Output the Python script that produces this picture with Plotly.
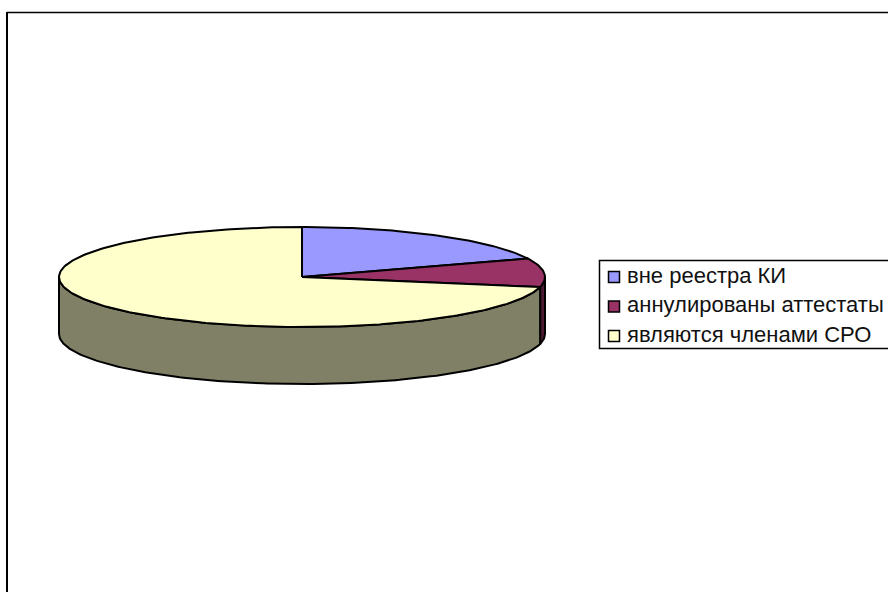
import numpy as np
import plotly.graph_objects as go

categories = ["вне реестра КИ", "аннулированы аттестаты", "являются членами СРО"]
shares = [19.0, 9.2, 71.8]
top_colors = ["#9999FF", "#993366", "#FFFFCC"]
side_colors = ["#4D4D80", "#4D1933", "#808066"]

W, H = 888, 592
CX, CY, RX, RY, DEPTH = 302, 277, 243, 50, 57
INK = "#000000"
TEXT_INK = "#111111"

fig = go.Figure()


def rim(a, b, dy=0.0):
    t = np.radians(np.linspace(a, b, max(2, int(abs(b - a)) + 2)))
    return CX + RX * np.sin(t), CY - RY * np.cos(t) + dy


edges = np.concatenate([[0], np.cumsum(shares)]) / np.sum(shares) * 360

# frame
fig.add_shape(type="line", x0=7, x1=W + 5, y0=12.5, y1=12.5, line=dict(color=INK, width=1.5))
fig.add_shape(type="line", x0=7, x1=7, y0=12, y1=H + 5, line=dict(color=INK, width=2))

# visible wall (front half of the drum)
for i in range(len(shares)):
    a, b = max(edges[i], 90), min(edges[i + 1], 270)
    if b <= a:
        continue
    xt, yt = rim(a, b)
    xb, yb = rim(a, b, DEPTH)
    fig.add_trace(go.Scatter(
        x=np.concatenate([xt, xb[::-1], xt[:1]]),
        y=np.concatenate([yt, yb[::-1], yt[:1]]),
        mode="lines", fill="toself", fillcolor=side_colors[i],
        line=dict(color=INK, width=2), hoverinfo="skip", showlegend=False))

# top faces
for i in range(len(shares)):
    xt, yt = rim(edges[i], edges[i + 1])
    fig.add_trace(go.Scatter(
        x=np.concatenate([[CX], xt, [CX]]),
        y=np.concatenate([[CY], yt, [CY]]),
        mode="lines", fill="toself", fillcolor=top_colors[i],
        line=dict(color=INK, width=2), name=categories[i],
        hoverinfo="name", showlegend=False))

# legend box
LX0, LY0, LY1 = 599.5, 260.5, 348.5
fig.add_shape(type="rect", x0=LX0, x1=W + 5, y0=LY0, y1=LY1,
              line=dict(color=INK, width=1.5), fillcolor="white", layer="below")
row_y = [277, 306.5, 336]
fig.add_trace(go.Scatter(
    x=[614] * 3, y=row_y, mode="markers",
    marker=dict(symbol="square", size=11, color=top_colors, line=dict(color=INK, width=1.5)),
    hoverinfo="skip", showlegend=False))
fig.add_trace(go.Scatter(
    x=[627] * 3, y=row_y, mode="text", text=categories,
    textposition="middle right",
    textfont=dict(family="Liberation Sans", size=22, color=TEXT_INK),
    hoverinfo="skip", showlegend=False))

fig.update_layout(
    width=W, height=H, margin=dict(l=0, r=0, t=0, b=0),
    paper_bgcolor="white", plot_bgcolor="white", showlegend=False,
    xaxis=dict(range=[0, W], visible=False, fixedrange=True),
    yaxis=dict(range=[H, 0], visible=False, fixedrange=True),
)
fig.write_html("out.html", config=dict(displayModeBar=False),
               post_script="document.body.style.margin='0';document.documentElement.style.overflow='hidden';")
